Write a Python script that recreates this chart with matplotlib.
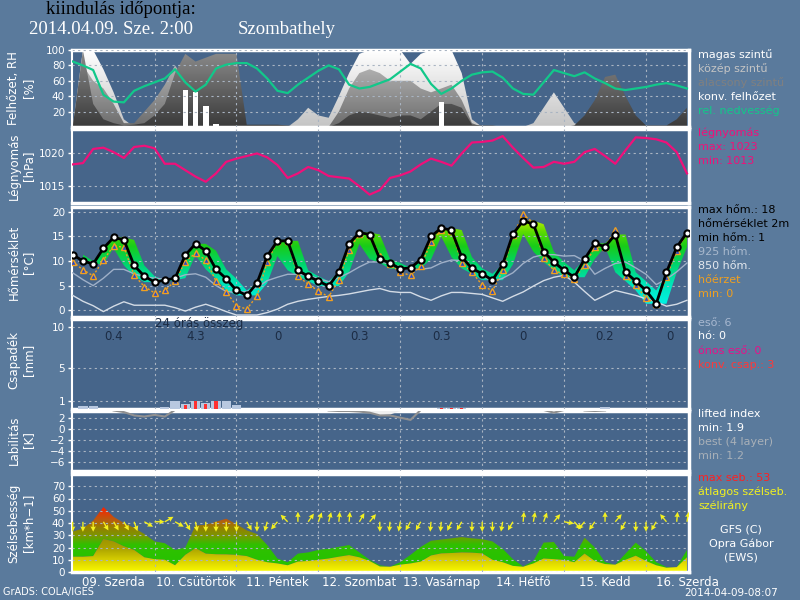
import numpy as np
import matplotlib
matplotlib.use('Agg')
import matplotlib.pyplot as plt
from matplotlib.colors import LinearSegmentedColormap
from matplotlib.patches import PathPatch
from matplotlib.path import Path

# 3 órás lépések, 0..180 h (2014-04-09 00 UTC)
hours = np.arange(0, 181, 3)
day_names = ['09. Szerda', '10. Csütörtök', '11. Péntek', '12. Szombat',
             '13. Vasárnap', '14. Hétfő', '15. Kedd', '16. Szerda']
rain_24h = ['0.4', '4.3', '0', '0.3', '0.3', '0', '0.2', '0']

# felhőzet [%]
cloud_high = [0, 100, 100, 75, 45, 10, 0, 0, 0, 0, 60, 40, 0, 0, 0, 0, 0, 0, 0, 0,
              0, 0, 10, 25, 15, 12, 40, 70, 95, 100, 100, 100, 100, 82, 95, 100, 100, 100, 70, 10,
              0, 0, 0, 0, 0, 5, 25, 45, 25, 5, 0, 0, 0, 0, 0, 0, 0, 0, 0, 0, 0]
cloud_mid = [0, 80, 60, 50, 30, 5, 5, 20, 35, 55, 80, 60, 50, 50, 50, 40, 0, 0, 0, 0,
             0, 0, 0, 0, 0, 0, 20, 50, 70, 75, 70, 60, 60, 60, 50, 45, 50, 55, 35, 5,
             0, 0, 0, 0, 0, 0, 0, 0, 0, 0, 0, 0, 0, 0, 0, 0, 0, 0, 0, 0, 0]
cloud_low = [0, 100, 30, 10, 5, 2, 3, 5, 15, 30, 70, 95, 85, 90, 95, 95, 95, 3, 3, 3,
             3, 2, 0, 0, 0, 0, 5, 15, 20, 18, 15, 12, 15, 15, 10, 20, 30, 30, 25, 3,
             2, 2, 0, 0, 0, 0, 0, 0, 0, 2, 15, 35, 65, 68, 40, 15, 2, 2, 2, 10, 25]
cloud_conv = [0] * 61
cloud_conv[11], cloud_conv[12], cloud_conv[13], cloud_conv[14], cloud_conv[36] = 48, 46, 27, 4, 33
rel_hum = [85, 80, 74, 42, 33, 32, 47, 53, 58, 63, 75, 58, 46, 55, 76, 81, 83, 83, 76, 63,
           47, 44, 55, 64, 73, 80, 75, 55, 50, 52, 57, 62, 72, 82, 76, 56, 43, 50, 60, 68,
           71, 72, 64, 50, 43, 42, 58, 74, 70, 66, 71, 63, 57, 50, 48, 50, 52, 55, 57, 54, 50]

# légnyomás [hPa]
pressure = [1018.3, 1018.5, 1020.7, 1020.9, 1020.2, 1019.3, 1021.0, 1021.2, 1020.8, 1018.4,
            1018.4, 1017.4, 1016.4, 1015.6, 1016.9, 1018.7, 1019.2, 1019.6, 1020.0, 1019.4,
            1018.2, 1016.2, 1016.9, 1017.9, 1017.4, 1016.5, 1016.3, 1016.1, 1014.9, 1013.6,
            1014.3, 1016.2, 1016.6, 1017.2, 1018.3, 1019.2, 1018.7, 1018.1, 1020.0, 1021.7,
            1021.8, 1022.0, 1022.7, 1020.9, 1019.3, 1017.8, 1017.9, 1018.7, 1018.4, 1018.7,
            1020.2, 1020.7, 1019.6, 1018.4, 1020.5, 1022.5, 1022.4, 1022.2, 1021.7, 1020.2, 1016.9]

# hőmérséklet [°C]
temp_2m = [11.3, 10.0, 9.4, 12.6, 14.8, 14.3, 9.1, 6.9, 5.7, 6.1, 6.5, 11.2, 13.5, 12.1, 8.3,
           6.4, 4.0, 3.0, 5.5, 11.0, 14.1, 14.1, 8.1, 6.9, 5.9, 4.9, 7.7, 13.5, 15.8, 15.4,
           10.4, 9.6, 8.4, 8.6, 10.3, 15.0, 16.7, 16.3, 10.8, 8.5, 7.4, 6.1, 9.3, 15.5, 18.2,
           17.5, 11.9, 9.8, 8.1, 6.7, 10.4, 13.6, 12.9, 15.4, 7.7, 5.9, 4.0, 1.3, 7.7, 12.8, 15.8]
feels_like = [9.9, 8.2, 7.0, 10.2, 13.1, 12.8, 7.1, 4.8, 3.5, 4.0, 5.9, 9.9, 11.6, 10.2, 5.9,
              3.7, 0.9, 0.2, 2.9, 9.8, 14.0, 14.1, 6.9, 5.3, 3.9, 2.7, 6.2, 12.3, 15.5, 15.4,
              11.1, 9.4, 7.7, 7.1, 9.0, 13.8, 16.3, 16.2, 9.6, 7.7, 5.1, 3.9, 8.1, 15.2, 19.5,
              17.8, 10.6, 8.1, 7.3, 6.4, 9.1, 12.8, 12.9, 16.3, 6.9, 5.1, 2.4, 1.3, 6.7, 12.1, 15.8]
# max / min sáv (1..60. lépés)
tmax_band = [11.3, 10.0, 12.6, 14.8, 14.8, 14.3, 9.1, 6.9, 6.1, 6.5, 11.2, 13.5, 13.5, 12.1, 8.3,
             6.4, 4.0, 5.5, 11.0, 14.1, 14.1, 14.1, 8.1, 6.9, 5.9, 7.7, 13.5, 15.8, 15.8, 15.4,
             10.4, 9.6, 8.6, 10.3, 15.0, 16.7, 16.7, 16.3, 10.8, 8.5, 7.4, 9.3, 15.5, 18.2, 18.2,
             17.5, 11.9, 9.8, 8.1, 10.4, 13.6, 13.6, 15.4, 15.4, 7.7, 5.9, 4.0, 7.7, 12.8, 15.8]
tmin_band = [9.4, 9.4, 9.4, 12.6, 9.1, 6.9, 5.7, 5.7, 5.7, 6.1, 6.5, 11.2, 8.3, 6.4, 4.0,
             3.0, 3.0, 3.0, 5.5, 11.0, 8.1, 6.9, 5.9, 4.9, 4.9, 4.9, 7.7, 13.5, 10.4, 9.6,
             8.4, 8.4, 8.4, 8.6, 10.3, 15.0, 10.8, 8.5, 7.4, 6.1, 6.1, 6.1, 9.3, 15.5, 11.9,
             9.8, 8.1, 6.7, 6.7, 6.7, 10.4, 12.9, 7.7, 5.9, 4.0, 1.3, 1.3, 1.3, 7.7, 12.8]
temp_925 = [7.6, 6.2, 5.0, 6.5, 8.3, 8.3, 7.4, 6.8, 6.5, 6.3, 6.5, 7.2, 7.4, 6.7, 5.0, 3.8,
            3.6, 3.8, 4.6, 6.0, 6.7, 7.3, 7.3, 7.1, 6.4, 5.8, 6.6, 7.6, 8.8, 9.8, 9.8, 9.4,
            8.8, 8.2, 8.3, 8.6, 9.6, 10.2, 10.1, 9.0, 7.0, 5.8, 6.5, 7.6, 9.5, 10.8, 11.3, 11.3,
            11.0, 11.1, 10.0, 7.3, 8.5, 9.5, 9.8, 8.6, 7.3, 5.2, 6.3, 7.8, 9.6]
temp_850 = [3.0, 1.8, 0.9, -0.3, 0.8, 1.7, 1.0, 1.0, 1.0, 1.0, 0.5, -0.2, 0.6, 1.2, 0.5, -0.3,
            -1.0, -1.0, -1.0, -0.5, 0.2, 1.2, 1.8, 2.2, 2.5, 2.8, 3.0, 3.3, 3.7, 4.1, 4.4, 3.8,
            3.6, 3.6, 2.7, 2.0, 2.9, 3.6, 3.6, 3.4, 3.2, 2.5, 1.8, 2.8, 3.7, 4.9, 6.0, 6.7,
            7.1, 5.7, 3.8, 2.0, 3.0, 4.0, 3.5, 3.0, 2.3, 1.7, 0.8, 1.2, 2.0]

# csapadék [mm / 3h]
rain = [0] * 61
rain[1], rain[2], rain[9], rain[10], rain[11] = 0.37, 0.37, 0.26, 0.92, 0.65
rain[12], rain[13], rain[14], rain[15], rain[16] = 1.0, 0.77, 0.92, 0.92, 0.53
rain[36], rain[37], rain[38], rain[52] = 0.15, 0.15, 0.15, 0.2
conv_rain = [0] * 61
conv_rain[11], conv_rain[12], conv_rain[13], conv_rain[14] = 0.53, 1.0, 0.65, 0.92
conv_rain[36], conv_rain[37], conv_rain[38] = 0.1, 0.1, 0.1

# labilitás [K]
nan = np.nan
li_best = [nan] * 61
for i, v in zip(range(4, 11), [3.3, 3.0, 2.4, 2.2, 2.5, 2.2, 3.4]):
    li_best[i] = v
for i, v in zip(range(25, 35), [3.3, 3.2, 3.2, 3.1, 2.9, 2.4, 2.4, 2.0, 1.6, 3.4]):
    li_best[i] = v
for i, v in zip([46, 47, 48, 50, 51, 52], [3.4, 2.9, 3.4, 3.3, 3.2, 3.3]):
    li_best[i] = v
li_sfc = [nan] * 61
for i, v in zip([28, 29, 30, 31, 32, 46, 47, 48], [3.3, 3.0, 2.6, 2.7, 3.3, 3.3, 2.9, 3.3]):
    li_sfc[i] = v

# szél [km/h], irány [fok]
wind_gust = [33, 35.5, 42, 53, 45, 40, 36, 31, 25, 23.5, 18, 20, 38, 38.5, 41, 43.5, 39, 34,
             31, 22, 11, 8, 15, 16, 18, 19, 20.5, 22, 16, 10, 5.5, 4.3, 8, 14, 20.5, 25.5,
             26.5, 27.5, 28.5, 27.5, 26.8, 25, 19, 10.5, 4.5, 9, 24, 24.5, 13, 12.5, 28, 20,
             8, 6, 15, 24, 17, 8, 4, 4, 18]
wind_mean = [12.5, 12.5, 13, 27, 25, 21, 18, 12, 10.5, 10, 5.5, 14, 19.5, 15, 14.5, 14.4, 14,
             13, 10, 8, 7, 5.5, 8.5, 9, 10, 11, 12.5, 13.8, 12, 9, 4.5, 4.3, 6, 7, 8.5, 13.5,
             15.2, 15.5, 16, 15.8, 15.2, 10, 8, 5, 4.3, 7, 11, 10.5, 9.8, 8, 15, 9, 6.5, 6,
             10, 13.3, 9, 5.5, 3.5, 4, 12]
wind_dir = [0, 0, 0, 330, 330, 330, 340, 300, 270, 240, 300, 330, 350, 0, 0, 0, 0, 330, 0, 15,
            40, 135, 180, 215, 200, 195, 185, 185, 210, 220, 0, 5, 10, 30, 30, 5, 5, 25, 30, 0,
            0, 0, 10, 30, 185, 190, 200, 220, 280, 320, 40, 35, 180, 220, 30, 0, 0, 30, 140, 185, 190]

bg = '#5a7a9c'
inner = '#46658a'
gridc = '#a9b4c2'
dots = (0, (2, 3))

fig = plt.figure(figsize=(8, 6), dpi=100)
fig.patch.set_facecolor(bg)

x0, w = 72 / 800, 617 / 800


def panel(top, bottom):
    ax = fig.add_axes([x0, 1 - bottom / 600, w, (bottom - top) / 600])
    ax.set_facecolor(inner)
    for s in ax.spines.values():
        s.set_color('white')
        s.set_linewidth(2.5)
    ax.spines['left'].set_linewidth(1.5)
    ax.set_xlim(-0.2, 180.6)
    ax.tick_params(axis='y', colors='white', labelsize=7.5, length=3, width=1, pad=2)
    ax.tick_params(axis='x', length=0, labelbottom=False)
    ax.set_xticks(np.arange(24, 180, 24))
    ax.grid(True, color=gridc, ls=dots, lw=0.8)
    ax.set_axisbelow(False)
    return ax


def grad_fill(ax, x, lo, hi, cmap, vmin, vmax, z=2):
    coll = ax.fill_between(x, lo, hi, facecolor='none', edgecolor='none')
    paths = coll.get_paths()
    path = Path.make_compound_path(*paths)
    patch = PathPatch(path, transform=ax.transData, facecolor='none', edgecolor='none')
    ax.add_patch(patch)
    grad = np.linspace(vmin, vmax, 256).reshape(-1, 1)
    im = ax.imshow(grad, extent=[x[0], x[-1], vmin, vmax], origin='lower', aspect='auto',
                   cmap=cmap, vmin=vmin, vmax=vmax, zorder=z, interpolation='bilinear')
    im.set_clip_path(patch)


# 1. felhőzet, RH
ax1 = panel(50, 127)
cm_high = LinearSegmentedColormap.from_list('h', ['#c4c4c4', '#ffffff'])
cm_mid = LinearSegmentedColormap.from_list('m', ['#6c6c6c', '#c4c4c4'])
cm_low = LinearSegmentedColormap.from_list('l', ['#3a3a3a', '#8c8c8c'])
zero = np.zeros(61)
grad_fill(ax1, hours, zero, cloud_high, cm_high, 0, 100, z=1)
grad_fill(ax1, hours, zero, cloud_mid, cm_mid, 0, 100, z=1.1)
grad_fill(ax1, hours, zero, cloud_low, cm_low, 0, 100, z=1.2)
ax1.bar(hours, cloud_conv, width=1.6, color='white', zorder=1.5)
ax1.plot(hours, rel_hum, color='#12c88a', lw=1.6, zorder=4)
ax1.set_ylim(0, 100)
ax1.set_yticks([20, 40, 60, 80, 100])

# 2. légnyomás
ax2 = panel(129, 203)
ax2.plot(hours, pressure, color='#f0107a', lw=1.6, zorder=4)
ax2.set_ylim(1012.3, 1023.8)
ax2.set_yticks([1015, 1020])

# 3. hőmérséklet
ax3 = panel(207, 317)
cm_t = LinearSegmentedColormap.from_list('t', [(0, '#00f8f0'), (0.28, '#00e4b8'), (0.5, '#00d468'),
                                               (0.68, '#18cc18'), (0.84, '#60dc00'), (1, '#e0f400')])
grad_fill(ax3, hours[1:], tmin_band, tmax_band, cm_t, 0, 19, z=1)
ax3.plot(hours, temp_850, color='#d4dce6', lw=1, zorder=3)
ax3.plot(hours, temp_925, color='#9fb0c8', lw=1, zorder=3)
ax3.plot(hours, feels_like, color='#f0a020', lw=1, ls=(0, (1.5, 1.5)), marker='^', ms=4,
         mfc='#2848c8', mec='#f0a020', mew=1, zorder=4)
ax3.plot(hours, temp_2m, color='black', lw=2, marker='o', ms=4.5, mfc='white', mec='black',
         mew=1.5, zorder=5)
ax3.set_ylim(-1.4, 21)
ax3.set_yticks([0, 5, 10, 15, 20])

# 4. csapadék
ax4 = panel(319, 409)
ax4.bar(hours, rain, width=2.7, color='#b8c8e0', zorder=3)
ax4.bar(hours, conv_rain, width=1.0, color='#ff3030', zorder=3.5)
ax4.set_ylim(0, 10.95)
ax4.set_yticks([1, 5, 10])
ax4.text(37, 10.4, '24 órás összeg', color='#1c2c44', fontsize=8.5, ha='center', va='center')
for k, s in enumerate(rain_24h):
    ax4.text(min(12 + 24 * k, 175), 8.85, s, color='#1c2c44', fontsize=8.5, ha='center', va='center')

# 5. labilitás
ax5 = panel(411, 471)
ax5.fill_between(hours, 3.3, li_sfc, color='#f0f0f0', zorder=3)
ax5.plot(hours, li_best, color='#909090', lw=1.5, zorder=4)
ax5.set_ylim(-7.6, 3.2)
ax5.set_yticks([-6, -4, -2, 0, 2])

# 6. szél
ax6 = panel(474, 572)
cm_g = LinearSegmentedColormap.from_list('g', [(0, '#22c400'), (0.42, '#30c000'), (0.56, '#7c9600'),
                                               (0.68, '#948000'), (0.8, '#b85c10'), (1, '#ff2000')])
cm_w = LinearSegmentedColormap.from_list('w', ['#fafa00', '#d8d000', '#aca400', '#9c9000'])
grad_fill(ax6, hours, wind_mean, wind_gust, cm_g, 0, 53, z=1)
grad_fill(ax6, hours, zero, wind_mean, cm_w, 0, 28, z=1.1)
rad = np.deg2rad(wind_dir)
ax6.quiver(hours, np.full(61, 41.0), -np.sin(rad), -np.cos(rad), angles='uv', pivot='tail',
           scale_units='inches', scale=10, width=0.0022, headwidth=4, headlength=4,
           headaxislength=3.5, color='#f4f020', zorder=4)
ax6.set_ylim(0, 80)
ax6.set_yticks(range(0, 80, 10))
for k, s in enumerate(day_names):
    ax6.text(12 + 24 * k, -3.5, s, color='white', fontsize=8.5, ha='center', va='top', clip_on=False)

# fejléc
fig.text(46 / 800, 1 - 10 / 600, 'kiindulás időpontja:', color='black', fontsize=13.5,
         family='Liberation Serif', va='center')
fig.text(29 / 800, 1 - 30 / 600, '2014.04.09. Sze. 2:00', color='white', fontsize=13.5,
         family='Liberation Serif', va='center')
fig.text(238 / 800, 1 - 30 / 600, 'Szombathely', color='white', fontsize=13.5,
         family='Liberation Serif', va='center')

# tengelyfeliratok
ylabels = [(88, 'Felhőzet, RH', '[%]'), (166, 'Légnyomás', '[hPa]'), (262, 'Hőmérséklet', '[°C]'),
           (360, 'Csapadék', '[mm]'), (440, 'Labilitás', '[K]'), (523, 'Szélsebesség', '[km*h−1]')]
for yc, a, b in ylabels:
    fig.text(14 / 800, 1 - yc / 600, a, color='white', fontsize=8.5, rotation=90, ha='center', va='center')
    fig.text(29 / 800, 1 - yc / 600, b, color='white', fontsize=8.5, rotation=90, ha='center', va='center')

# jelmagyarázat
legend = [(55, 'magas szintű', 'white'), (69, 'közép szintű', '#c4c4c4'),
          (83, 'alacsony szintű', '#808080'), (97, 'konv. felhőzet', 'white'),
          (111, 'rel. nedvesség', '#12c88a'),
          (133, 'légnyomás', '#f0107a'), (147, 'max: 1023', '#f0107a'), (161, 'min: 1013', '#f0107a'),
          (210, 'max hőm.: 18', 'black'), (224, 'hőmérséklet 2m', 'black'), (238, 'min hőm.: 1', 'black'),
          (252, '925 hőm.', '#a8b8cc'), (266, '850 hőm.', '#e4e8ee'), (280, 'hőérzet', '#f0a020'),
          (294, 'min: 0', '#f0a020'),
          (323, 'eső: 6', '#a8b8d0'), (336, 'hó: 0', 'white'), (351, 'ónos eső: 0', '#e8108a'),
          (365, 'konv. csap.: 3', '#ff3838'),
          (414, 'lifted index', 'white'), (428, 'min: 1.9', 'white'), (442, 'best (4 layer)', '#a8b0b8'),
          (456, 'min: 1.2', '#a8b0b8'),
          (478, 'max seb.: 53', '#ff2020'), (492, 'átlagos szélseb.', '#f0f020'),
          (506, 'szélirány', '#f0f020')]
for yc, s, c in legend:
    fig.text(698 / 800, 1 - yc / 600, s, color=c, fontsize=8, va='center')
for yc, s in [(530, 'GFS (C)'), (544, 'Opra Gábor'), (557, '(EWS)')]:
    fig.text(741 / 800, 1 - yc / 600, s, color='white', fontsize=8, ha='center', va='center')

fig.text(3 / 800, 1 - 592 / 600, 'GrADS: COLA/IGES', color='white', fontsize=7, va='center')
fig.text(778 / 800, 1 - 593 / 600, '2014-04-09-08:07', color='white', fontsize=7.5,
         ha='right', va='center')

fig.savefig('out.png', dpi=100, facecolor=bg)
